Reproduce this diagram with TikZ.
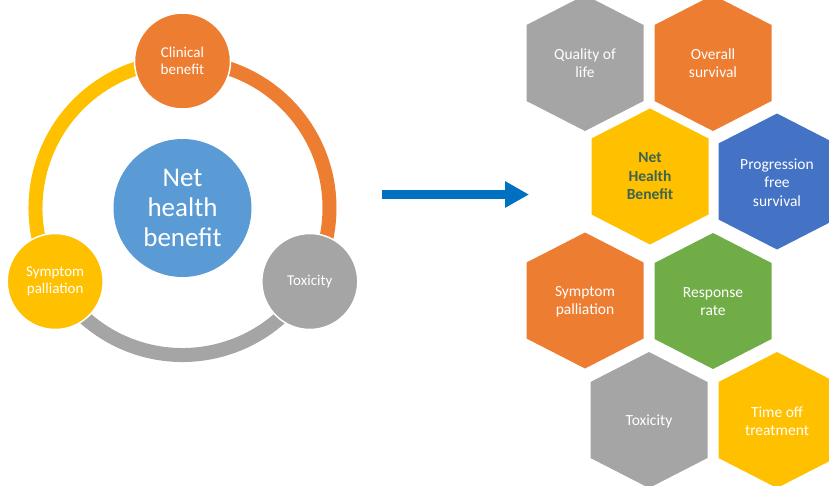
\documentclass[tikz,border=0pt]{standalone}
\usepackage{fontspec}
\setmainfont{Carlito}
\usetikzlibrary{arrows.meta,backgrounds}

\definecolor{cOrange}{HTML}{ED7D31}
\definecolor{cGray}{HTML}{A5A5A5}
\definecolor{cYellow}{HTML}{FFC000}
\definecolor{cHub}{HTML}{5B9BD5}
\definecolor{cBlue}{HTML}{4472C4}
\definecolor{cGreen}{HTML}{70AD47}
\definecolor{cArrow}{HTML}{0070C0}
\definecolor{cDarkText}{RGB}{60,100,80}

\begin{document}
\begin{tikzpicture}[x=1pt,y=-1pt,
  ringarc/.style={line width=14pt},
  cyclenode/.style={circle, draw=white, line width=1.5pt, minimum size=96pt,
    inner sep=0pt, text=white, align=center, font=\fontsize{15}{17.5}\selectfont},
  hubnode/.style={circle, fill=cHub, minimum size=138pt, inner sep=0pt,
    text=white, align=center, font=\fontsize{27}{30}\selectfont},
  hexlabel/.style={text=white, align=center, font=\fontsize{15.5}{18.5}\selectfont},
  hexcell/.pic={\fill[pic actions] (0,-68)--(58.5,-38)--(58.5,38)--(0,68)
    --(-58.5,38)--(-58.5,-38)--cycle;}
]
\useasboundingbox (0,0) rectangle (829,485);

% ---- cycle of three factors around the hub ----
\node[hubnode] (hub) at (182.5,208) {Net\\health\\benefit};
\node[cyclenode, fill=cOrange] (clin) at (182.5,61) {Clinical\\benefit};
\node[cyclenode, fill=cGray] (tox) at (309.8,281.5) {Toxicity};
\node[cyclenode, fill=cYellow] (sym) at (55.2,281.5) {Symptom\\palliation};

\begin{scope}[on background layer]
  \draw[ringarc, draw=cOrange] (clin.center) arc[start angle=-90, end angle=30, radius=147];
  \draw[ringarc, draw=cGray] (tox.center) arc[start angle=30, end angle=150, radius=147];
  \draw[ringarc, draw=cYellow] (sym.center) arc[start angle=150, end angle=270, radius=147];
\end{scope}

% ---- arrow ----
\coordinate (arrowtail) at (382,194.5);
\coordinate (arrowtip) at (529,194.5);
\draw[line width=9pt, draw=cArrow, -{Triangle[length=24pt, width=25pt]}]
  (arrowtail) -- (arrowtip);

% ---- honeycomb of outcome measures ----
\pic[fill=cGray] at (585,63) {hexcell};
\node[hexlabel] (qol) at (585,63) {Quality of\\life};
\pic[fill=cOrange] at (713,63) {hexcell};
\node[hexlabel] (os) at (713,63) {Overall\\survival};
\pic[fill=cYellow] at (650,176.5) {hexcell};
\node[hexlabel, text=cDarkText, font=\fontsize{15.5}{18.5}\selectfont\bfseries] (nhb) at (650,176.5) {Net\\Health\\Benefit};
\pic[fill=cBlue] at (777,181.5) {hexcell};
\node[hexlabel] (pfs) at (777,182.5) {Progression\\free\\survival};
\pic[fill=cOrange] at (585,300.5) {hexcell};
\node[hexlabel] (sp) at (585,301.5) {Symptom\\palliation};
\pic[fill=cGreen] at (713,301) {hexcell};
\node[hexlabel] (rr) at (713,301.5) {Response\\rate};
\pic[fill=cGray] at (649,420) {hexcell};
\node[hexlabel] (htox) at (649,421) {Toxicity};
\pic[fill=cYellow] at (777,420) {hexcell};
\node[hexlabel] (tot) at (777,421) {Time off\\treatment};
\end{tikzpicture}
\end{document}
